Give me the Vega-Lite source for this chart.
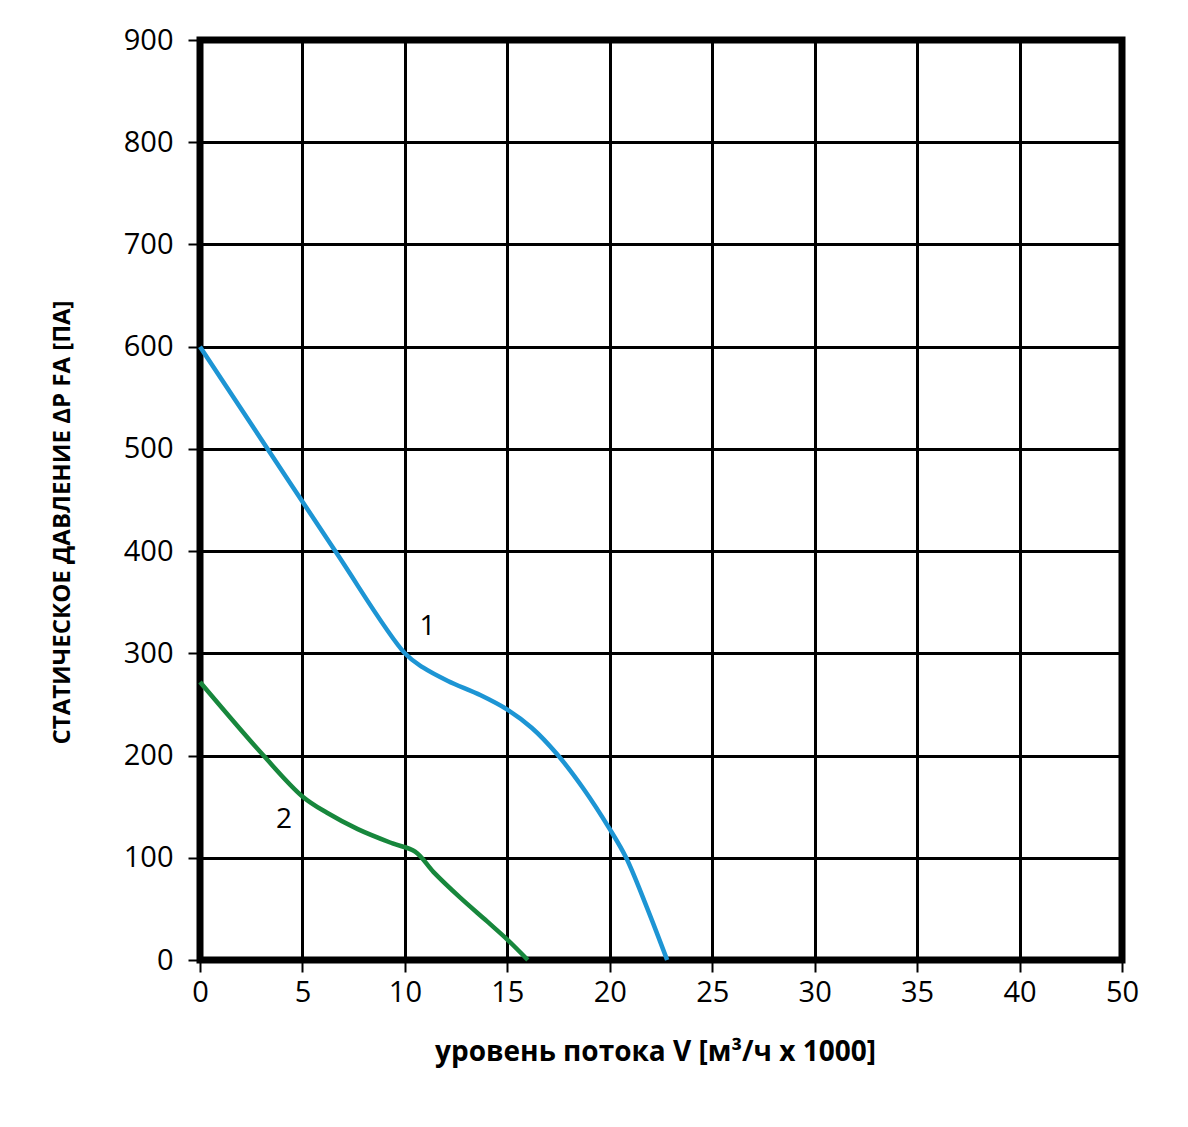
{
  "$schema": "https://vega.github.io/schema/vega-lite/v6.json",
  "width": 922,
  "height": 920,
  "autosize": {"type": "none"},
  "padding": {"left": 200, "top": 40, "right": 66, "bottom": 167},
  "background": "white",
  "config": {
    "view": {"stroke": "black", "strokeWidth": 7},
    "font": "Open Sans"
  },
  "datasets": {
    "curves": [
      {"series": "1", "x": 0, "y": 600},
      {"series": "1", "x": 3.3, "y": 500},
      {"series": "1", "x": 6.6, "y": 400},
      {"series": "1", "x": 10, "y": 300},
      {"series": "1", "x": 10.9, "y": 286},
      {"series": "1", "x": 12.1, "y": 273},
      {"series": "1", "x": 13.7, "y": 259},
      {"series": "1", "x": 15.0, "y": 245},
      {"series": "1", "x": 16.2, "y": 227},
      {"series": "1", "x": 17.4, "y": 202},
      {"series": "1", "x": 18.7, "y": 168},
      {"series": "1", "x": 20.0, "y": 128},
      {"series": "1", "x": 20.8, "y": 100},
      {"series": "1", "x": 21.8, "y": 52},
      {"series": "1", "x": 22.8, "y": 0},
      {"series": "2", "x": 0, "y": 272},
      {"series": "2", "x": 3.1, "y": 200},
      {"series": "2", "x": 5.0, "y": 160},
      {"series": "2", "x": 6.2, "y": 144},
      {"series": "2", "x": 7.7, "y": 128},
      {"series": "2", "x": 9.4, "y": 114},
      {"series": "2", "x": 10.5, "y": 106},
      {"series": "2", "x": 11.4, "y": 86},
      {"series": "2", "x": 12.7, "y": 61},
      {"series": "2", "x": 14.0, "y": 38},
      {"series": "2", "x": 15.0, "y": 20},
      {"series": "2", "x": 16.0, "y": 0}
    ],
    "labels": [
      {"series": "1", "x": 11.1, "y": 326},
      {"series": "2", "x": 4.1, "y": 137}
    ]
  },
  "layer": [
    {
      "data": {"name": "curves"},
      "mark": {"type": "line", "interpolate": "catmull-rom", "strokeWidth": 4.5},
      "encoding": {
        "x": {
          "field": "x", "type": "quantitative",
          "scale": {"domain": [0, 45], "nice": false, "zero": false},
          "axis": {
            "values": [0, 5, 10, 15, 20, 25, 30, 35, 40, 45],
            "labelExpr": "datum.value == 45 ? '50' : datum.label",
            "labelFlush": false,
            "grid": true, "gridColor": "black", "gridWidth": 3, "gridOpacity": 1,
            "domain": false,
            "ticks": true, "tickColor": "black", "tickSize": 12, "tickWidth": 2,
            "labelFontSize": 29, "labelColor": "black", "labelPadding": 6,
            "labelFont": "Open Sans",
            "title": "уровень потока V [м³/ч x 1000]",
            "titleFont": "Open Sans", "titleFontSize": 28, "titleFontWeight": "bold",
            "titleColor": "black",
            "titleX": 455, "titleY": 92, "titleBaseline": "middle", "titleAnchor": "middle", "titleAlign": "center"
          }
        },
        "y": {
          "field": "y", "type": "quantitative",
          "scale": {"domain": [0, 900], "nice": false},
          "axis": {
            "values": [0, 100, 200, 300, 400, 500, 600, 700, 800, 900],
            "labelFlush": false,
            "grid": true, "gridColor": "black", "gridWidth": 3, "gridOpacity": 1,
            "domain": false,
            "ticks": true, "tickColor": "black", "tickSize": 12, "tickWidth": 2,
            "labelFontSize": 29, "labelColor": "black", "labelPadding": 15,
            "labelFont": "Open Sans",
            "title": "СТАТИЧЕСКОЕ ДАВЛЕНИЕ ΔP FA [ПА]",
            "titleFont": "Open Sans", "titleFontSize": 24, "titleFontWeight": "bold",
            "titleColor": "black", "titleAngle": -90,
            "titleX": -138, "titleY": 482, "titleBaseline": "middle", "titleAnchor": "middle", "titleAlign": "center"
          }
        },
        "color": {
          "field": "series", "type": "nominal",
          "scale": {"domain": ["1", "2"], "range": ["#1d95d4", "#17873c"]},
          "legend": null
        }
      }
    },
    {
      "data": {"name": "labels"},
      "mark": {"type": "text", "fontSize": 28, "font": "Open Sans", "color": "black", "align": "center", "baseline": "middle"},
      "encoding": {
        "x": {"field": "x", "type": "quantitative"},
        "y": {"field": "y", "type": "quantitative"},
        "text": {"field": "series"}
      }
    }
  ]
}
